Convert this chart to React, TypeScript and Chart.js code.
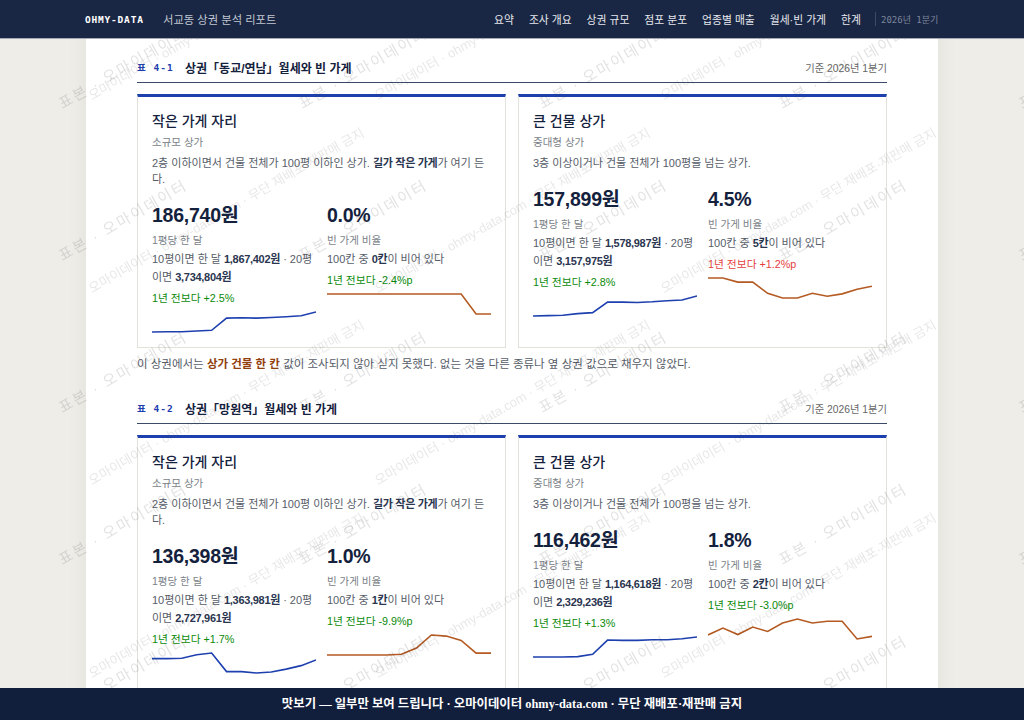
import { useEffect, useRef } from "react";
import { Chart, registerables } from "chart.js";

Chart.register(...registerables);

// 12 quarters behind every sparkline
const quarters = ["23-2Q", "23-3Q", "23-4Q", "24-1Q", "24-2Q", "24-3Q", "24-4Q", "25-1Q", "25-2Q", "25-3Q", "25-4Q", "26-1Q"];

// 동교/연남
const donggyoSmallRent = [171770, 172000, 172000, 172530, 173060, 182180, 182410, 182185, 182640, 183170, 183930, 186740];
const donggyoSmallVacancy = [2.4, 2.4, 2.4, 2.4, 2.4, 2.4, 2.4, 2.4, 2.4, 2.4, 0, 0];
const donggyoLargeRent = [144541, 144768, 144994, 146126, 146806, 153824, 153824, 153598, 154050, 154730, 155182, 157899];
const donggyoLargeVacancy = [5.9, 5.9, 5.2, 5.2, 3.3, 2.5, 2.5, 3.3, 2.8, 3.2, 4.0, 4.5];

// 망원역
const mangwonSmallRent = [136644, 136644, 136706, 137322, 137630, 134365, 134365, 134118, 134304, 134796, 135412, 136398];
const mangwonSmallVacancy = [0, 0, 0, 0, 0, 0.4, 3.8, 10.9, 10.3, 7.9, 1.0, 1.0];
const mangwonLargeRent = [107642, 107642, 107642, 107791, 108838, 115116, 114967, 114967, 115266, 115266, 115714, 116462];
const mangwonLargeVacancy = [2.1, 3.65, 2.2, 3.9, 2.9, 4.8, 5.7, 4.8, 5.2, 5.2, 1.2, 1.8];

const navItems = ["요약", "조사 개요", "상권 규모", "점포 분포", "업종별 매출", "월세·빈 가게", "한계"];

const RENT_COLOR = "#1e40af";
const VACANCY_COLOR = "#b45a22";
const GOOD = "#0a8a0a";
const BAD = "#e53e3e";
const BODY_TEXT = "#565c68";
const SANS = '"Liberation Sans", "Noto Sans CJK KR", sans-serif';
const MONO = '"DejaVu Sans Mono", "Noto Sans CJK KR", monospace';

function Spark({ values, color }: { values: number[]; color: string }) {
  const canvasRef = useRef<HTMLCanvasElement>(null);

  useEffect(() => {
    if (!canvasRef.current) return;
    const chart = new Chart(canvasRef.current, {
      type: "line",
      data: {
        labels: quarters,
        datasets: [{ data: values, borderColor: color, borderWidth: 1.6, tension: 0, pointRadius: 0, fill: false, clip: false }],
      },
      options: {
        animation: false,
        responsive: false,
        layout: { padding: { top: 4, bottom: 4, left: 0, right: 0 } },
        plugins: { legend: { display: false }, tooltip: { enabled: false } },
        scales: {
          x: { display: false },
          y: { display: false, min: Math.min(...values), max: Math.max(...values) },
        },
      },
    });
    return () => chart.destroy();
  }, [values, color]);

  return <canvas ref={canvasRef} width={164} height={28} style={{ display: "block", width: 164, height: 28, marginTop: 3 }} />;
}

interface MetricProps {
  big: string;
  label: string;
  detail: React.ReactNode;
  change: string;
  good: boolean;
  values: number[];
  color: string;
}

function Metric({ big, label, detail, change, good, values, color }: MetricProps) {
  return (
    <div>
      <div style={{ fontSize: 19.5, letterSpacing: -0.25, fontWeight: 700, lineHeight: "36px", color: "#14213d" }}>{big}</div>
      <div style={{ fontSize: 10.5, lineHeight: "14px", color: "#7a7f88" }}>{label}</div>
      <div style={{ fontSize: 11, lineHeight: "18px", color: BODY_TEXT, marginTop: 3 }}>{detail}</div>
      <div style={{ fontSize: 10.75, lineHeight: "14px", marginTop: 5, color: good ? GOOD : BAD }}>{change}</div>
      <Spark values={values} color={color} />
    </div>
  );
}

const B = ({ children }: { children: React.ReactNode }) => <b style={{ color: "#2a3550", fontWeight: 700, letterSpacing: -0.3 }}>{children}</b>;

interface CardProps {
  title: string;
  sub: string;
  desc: React.ReactNode;
  left: MetricProps;
  right: MetricProps;
}

function Card({ title, sub, desc, left, right }: CardProps) {
  return (
    <div style={{ flex: "0 0 369px", boxSizing: "border-box", borderTop: `3px solid ${RENT_COLOR}`, borderLeft: "1px solid #e2e2da", borderRight: "1px solid #e2e2da", borderBottom: "1px solid #e2e2da", padding: "14px 14px 10px", height: 254 }}>
      <div style={{ fontSize: 14, fontWeight: 500, lineHeight: "20px", color: "#14213d" }}>{title}</div>
      <div style={{ fontSize: 10.5, lineHeight: "14px", marginTop: 4, color: "#7a7f88" }}>{sub}</div>
      <div style={{ fontSize: 11, lineHeight: "16px", marginTop: 6, color: BODY_TEXT }}>{desc}</div>
      <div style={{ display: "grid", gridTemplateColumns: "164px 164px", columnGap: 11, marginTop: 10 }}>
        <Metric {...left} />
        <Metric {...right} />
      </div>
    </div>
  );
}

const smallDesc = <>2층 이하이면서 건물 전체가 100평 이하인 상가. <B>길가 작은 가게</B>가 여기 든다.</>;
const largeDesc = <>3층 이상이거나 건물 전체가 100평을 넘는 상가.</>;

function Section({ no, name, small, large, note }: { no: string; name: string; small: [MetricProps, MetricProps]; large: [MetricProps, MetricProps]; note?: React.ReactNode }) {
  return (
    <section style={{ marginBottom: 29 }}>
      <div style={{ display: "flex", alignItems: "center", height: 14, paddingBottom: 8, borderBottom: "1px solid #3b4a66", marginBottom: 11 }}>
        <span style={{ fontFamily: MONO, fontSize: 9.5, fontWeight: 700, color: RENT_COLOR, width: 48, letterSpacing: 1 }}>표 {no}</span>
        <span style={{ fontSize: 12, fontWeight: 700, color: "#14213d" }}>상권「{name}」월세와 빈 가게</span>
        <span style={{ marginLeft: "auto", fontSize: 10.3, color: "#666" }}>기준 2026년 1분기</span>
      </div>
      <div style={{ display: "flex", gap: 12 }}>
        <Card title="작은 가게 자리" sub="소규모 상가" desc={smallDesc} left={small[0]} right={small[1]} />
        <Card title="큰 건물 상가" sub="중대형 상가" desc={largeDesc} left={large[0]} right={large[1]} />
      </div>
      {note && <div style={{ fontSize: 11.5, lineHeight: "16px", marginTop: 8, color: BODY_TEXT }}>{note}</div>}
    </section>
  );
}

const rentDetail = (ten: string, twenty: string) => <>10평이면 한 달 <B>{ten}원</B> · 20평이면 <B>{twenty}원</B></>;
const vacancyDetail = (n: number) => <>100칸 중 <B>{n}칸</B>이 비어 있다</>;

const rentMetric = (big: string, ten: string, twenty: string, change: string, values: number[]): MetricProps => ({
  big, label: "1평당 한 달", detail: rentDetail(ten, twenty), change: `1년 전보다 ${change}`, good: true, values, color: RENT_COLOR,
});
const vacancyMetric = (big: string, n: number, change: string, good: boolean, values: number[]): MetricProps => ({
  big, label: "빈 가게 비율", detail: vacancyDetail(n), change: `1년 전보다 ${change}`, good, values, color: VACANCY_COLOR,
});

const lattice = (x0: number, y0: number, dx: number, dy: number, maxX: number, maxY: number) => {
  const out: [number, number][] = [];
  for (let y = y0; y < maxY; y += dy) for (let x = x0; x < maxX; x += dx) out.push([x, y]);
  return out;
};

function Watermark({ text, spots, size, spacing, opacity, clip }: { text: string; spots: [number, number][]; size: number; spacing: number; opacity: number; clip?: boolean }) {
  return (
    <div style={{ position: "absolute", left: clip ? 86 : 0, width: clip ? 852 : 1024, top: 38, height: 650, overflow: "hidden", pointerEvents: "none" }}>
      {spots.map(([x, y]) => (
        <span key={`${x}-${y}`} style={{ position: "absolute", left: x - (clip ? 86 : 0), top: y - 38, lineHeight: 0, whiteSpace: "nowrap", fontSize: size, letterSpacing: spacing, color: `rgba(60,60,60,${opacity})`, transform: "rotate(-30deg)", transformOrigin: "0 0" }}>{text}</span>
      ))}
    </div>
  );
}

export default function App() {
  return (
    <div style={{ position: "fixed", inset: 0, overflow: "hidden", background: "#eeede8", fontFamily: SANS }}>
      <div style={{ position: "absolute", left: 86, top: 0, width: 852, height: 720, boxSizing: "border-box", background: "#fff", boxShadow: "0 0 20px rgba(0,0,0,0.06)", padding: "60px 51px 0" }}>
        <Section
          no="4-1"
          name="동교/연남"
          small={[
            rentMetric("186,740원", "1,867,402", "3,734,804", "+2.5%", donggyoSmallRent),
            vacancyMetric("0.0%", 0, "-2.4%p", true, donggyoSmallVacancy),
          ]}
          large={[
            rentMetric("157,899원", "1,578,987", "3,157,975", "+2.8%", donggyoLargeRent),
            vacancyMetric("4.5%", 5, "+1.2%p", false, donggyoLargeVacancy),
          ]}
          note={<>이 상권에서는 <b style={{ color: "#92400e" }}>상가 건물 한 칸</b> 값이 조사되지 않아 싣지 못했다. 없는 것을 다른 종류나 옆 상권 값으로 채우지 않았다.</>}
        />
        <Section
          no="4-2"
          name="망원역"
          small={[
            rentMetric("136,398원", "1,363,981", "2,727,961", "+1.7%", mangwonSmallRent),
            vacancyMetric("1.0%", 1, "-9.9%p", true, mangwonSmallVacancy),
          ]}
          large={[
            rentMetric("116,462원", "1,164,618", "2,329,236", "+1.3%", mangwonLargeRent),
            vacancyMetric("1.8%", 2, "-3.0%p", true, mangwonLargeVacancy),
          ]}
        />
      </div>

      <Watermark text="오마이데이터 · ohmy-data.com · 무단 재배포·재판매 금지" spots={lattice(90, 97, 286, 192.5, 938, 900)} size={13} spacing={0} opacity={0.12} clip />
      <Watermark text="표본 · 오마이데이터" spots={lattice(60, 105, 240, 152, 1024, 900)} size={15} spacing={2} opacity={0.15} />

      <header style={{ position: "absolute", left: 0, right: 0, top: 0, height: 39, boxSizing: "border-box", background: "#1a2744", borderBottom: "1px solid #a5a8b5", display: "flex", alignItems: "center", paddingLeft: 85, color: "#fff" }}>
        <span style={{ fontFamily: MONO, fontSize: 9.5, fontWeight: 700, letterSpacing: 0.8, width: 78 }}>OHMY-DATA</span>
        <span style={{ fontSize: 11.3, color: "#c0c6d2" }}>서교동 상권 분석 리포트</span>
        <nav style={{ position: "absolute", left: 494, display: "flex", gap: 15, fontSize: 10.8, color: "#e6e8ee" }}>
          {navItems.map((n) => <span key={n}>{n}</span>)}
        </nav>
        <span style={{ position: "absolute", left: 875, width: 1, height: 14, background: "#3b4a66" }} />
        <span style={{ position: "absolute", left: 881, width: 57, overflow: "hidden", whiteSpace: "nowrap", fontFamily: MONO, fontSize: 9, color: "#7c869b" }}>2026년 1분기</span>
      </header>

      <footer style={{ position: "absolute", left: 0, right: 0, top: 688, height: 32, background: "#111e3c", color: "#fff", fontFamily: '"Liberation Serif", "Noto Sans CJK KR", serif', fontSize: 12.4, fontWeight: 700, textAlign: "center", lineHeight: "32px" }}>
        맛보기 — 일부만 보여 드립니다 · 오마이데이터 ohmy-data.com · 무단 재배포·재판매 금지
      </footer>
    </div>
  );
}
